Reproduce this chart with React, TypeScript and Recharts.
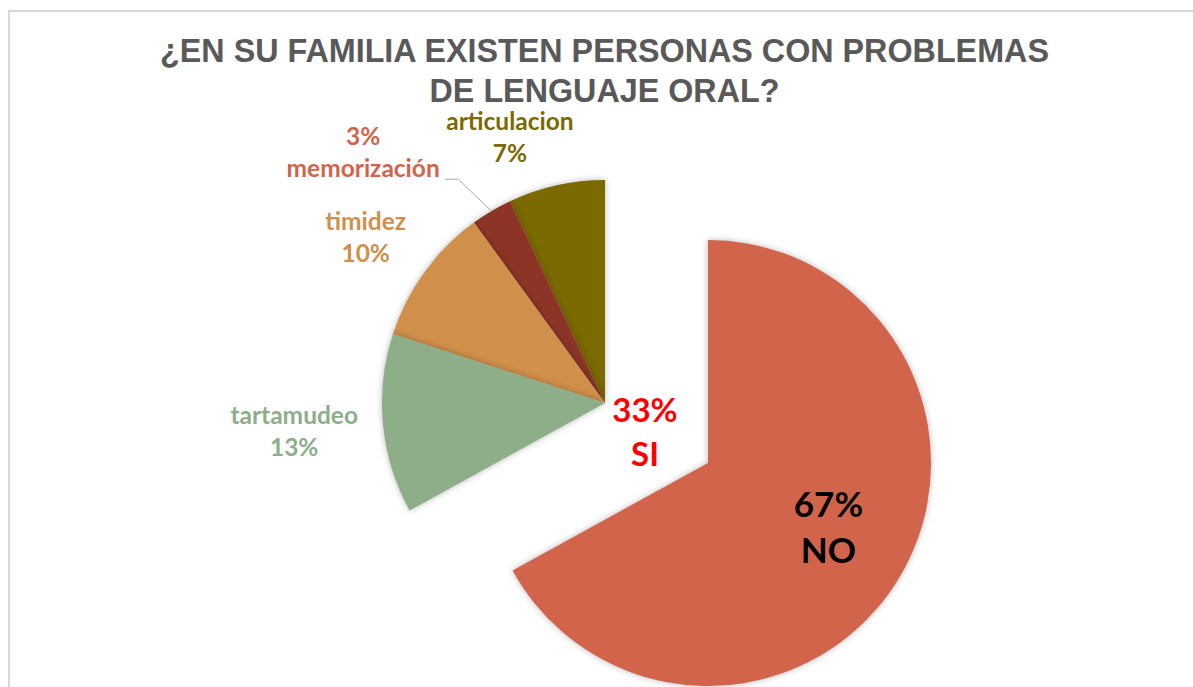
import React from 'react';
import { PieChart, Pie, Cell } from 'recharts';

// Chart data
const noCategory = 'NO';
const noValue = 67;

const siCategory = 'SI';
const siCategories = ['articulacion', 'memorización', 'timidez', 'tartamudeo'];
const siValues = [7, 3, 10, 13];

const titleLines = ['¿EN SU FAMILIA EXISTEN PERSONAS CON PROBLEMAS', 'DE LENGUAJE ORAL?'];

// Styling
const NO_COLOR = '#D1644A';
const SI_COLORS = ['#7B6A00', '#8C3526', '#D08F4B', '#8DAE89'];
const SI_LABEL_COLORS = ['#7B6A00', '#D1644A', '#D08F4B', '#8DAE89'];
const RADIUS = 223;
const NO_CENTER = { x: 708, y: 463 };
const SI_CENTER = { x: 605, y: 403 };
// label placement (polar, relative to each slice's mid angle)
const LABEL_R = [274, 342, 286, 313];
const LABEL_SHIFT = [7.7, 14.4, 2.8, 1.4];
const RADIAN = Math.PI / 180;
const FONT = 'Lato, "Open Sans", sans-serif';

const App: React.FC = () => {
  const siTotal = siValues.reduce((acc, cur) => acc + cur, 0);
  const noData = [{ name: noCategory, value: noValue }];
  const siData = siCategories.map((name, i) => ({ name, value: siValues[i] }));

  const renderSiLabel = (props: any) => {
    const { cx, cy, midAngle, outerRadius, index } = props;
    const a = (midAngle + LABEL_SHIFT[index]) * RADIAN;
    const x = cx + LABEL_R[index] * Math.cos(a);
    const y = cy - LABEL_R[index] * Math.sin(a);
    const pct = `${siValues[index]}%`;
    const name = siCategories[index];
    const color = SI_LABEL_COLORS[index];
    const lines = index === 1 ? [pct, name] : [name, pct];
    let leader = null;
    if (index === 1) {
      // leader line from slice edge to the label
      const ma = midAngle * RADIAN;
      const sx = cx + outerRadius * Math.cos(ma);
      const sy = cy - outerRadius * Math.sin(ma);
      const ex = x + 82;
      const ey = y + 18;
      leader = (
        <polyline
          points={`${sx},${sy} ${ex + 13},${ey} ${ex},${ey}`}
          fill="none"
          stroke="#A6A6A6"
          strokeWidth={1}
        />
      );
    }
    return (
      <g key={`lbl-${index}`}>
        {leader}
        <text x={x} y={y - 16} textAnchor="middle" fill={color} fontFamily={FONT} fontWeight={700} fontSize={24.5}>
          {lines[0]}
        </text>
        <text x={x} y={y + 16} textAnchor="middle" fill={color} fontFamily={FONT} fontWeight={700} fontSize={24.5}>
          {lines[1]}
        </text>
      </g>
    );
  };

  const renderNoLabel = (props: any) => {
    const { cx, cy, midAngle } = props;
    const a = (midAngle - 2) * RADIAN;
    const x = cx + 143 * Math.cos(a);
    const y = cy - 143 * Math.sin(a);
    return (
      <g>
        <text x={x} y={y - 23} textAnchor="middle" fill="#000" fontFamily={FONT} fontWeight={700} fontSize={35}>
          {`${noValue}%`}
        </text>
        <text x={x} y={y + 23} textAnchor="middle" fill="#000" fontFamily={FONT} fontWeight={700} fontSize={35}>
          {noCategory}
        </text>
      </g>
    );
  };

  return (
    <div style={{ position: 'fixed', left: 0, top: 0, width: 1193, height: 687, overflow: 'hidden', background: '#fff' }}>
      <style>{`.recharts-sector { filter: drop-shadow(0 0 3px rgba(0,0,0,0.28)); }`}</style>
      <div
        style={{
          position: 'absolute',
          left: 8,
          top: 10,
          width: 1200,
          height: 700,
          borderTop: '2px solid #D9D9D9',
          borderLeft: '2px solid #D9D9D9',
        }}
      />
      <div
        style={{
          position: 'absolute',
          left: 0,
          top: 35.6,
          width: 1209,
          textAlign: 'center',
          fontFamily: '"Liberation Sans", Arial, sans-serif',
          fontWeight: 700,
          fontSize: 32.3,
          lineHeight: '30px',
          color: '#595959',
        }}
      >
        {titleLines.map((t, i) => (
          <div key={t} style={{ marginTop: i > 0 ? 10 : 0 }}>{t}</div>
        ))}
      </div>
      <div style={{ position: 'absolute', left: 0, top: 0 }}>
        <PieChart width={1193} height={687} margin={{ top: 0, right: 0, bottom: 0, left: 0 }}>
          <Pie
            data={noData}
            dataKey="value"
            nameKey="name"
            cx={NO_CENTER.x}
            cy={NO_CENTER.y}
            outerRadius={RADIUS}
            startAngle={90}
            endAngle={90 - (360 * noValue) / 100}
            stroke="none"
            label={renderNoLabel}
            labelLine={false}
            isAnimationActive={false}
          >
            <Cell fill={NO_COLOR} />
          </Pie>
          <Pie
            data={siData}
            dataKey="value"
            nameKey="name"
            cx={SI_CENTER.x}
            cy={SI_CENTER.y}
            outerRadius={RADIUS}
            startAngle={90}
            endAngle={90 + (360 * siTotal) / 100}
            stroke="none"
            label={renderSiLabel}
            labelLine={false}
            isAnimationActive={false}
          >
            {siData.map((entry, index) => (
              <Cell key={`cell-${entry.name}`} fill={SI_COLORS[index]} />
            ))}
          </Pie>
        </PieChart>
      </div>
      <svg style={{ position: 'absolute', left: 0, top: 0 }} width={1193} height={687}>
        <text x={SI_CENTER.x + 40} y={SI_CENTER.y + 19} textAnchor="middle" fill="#FF0000" fontFamily={FONT} fontWeight={700} fontSize={33}>
          {`${siTotal}%`}
        </text>
        <text x={SI_CENTER.x + 40} y={SI_CENTER.y + 63} textAnchor="middle" fill="#FF0000" fontFamily={FONT} fontWeight={700} fontSize={33}>
          {siCategory}
        </text>
      </svg>
    </div>
  );
};

export default App;
